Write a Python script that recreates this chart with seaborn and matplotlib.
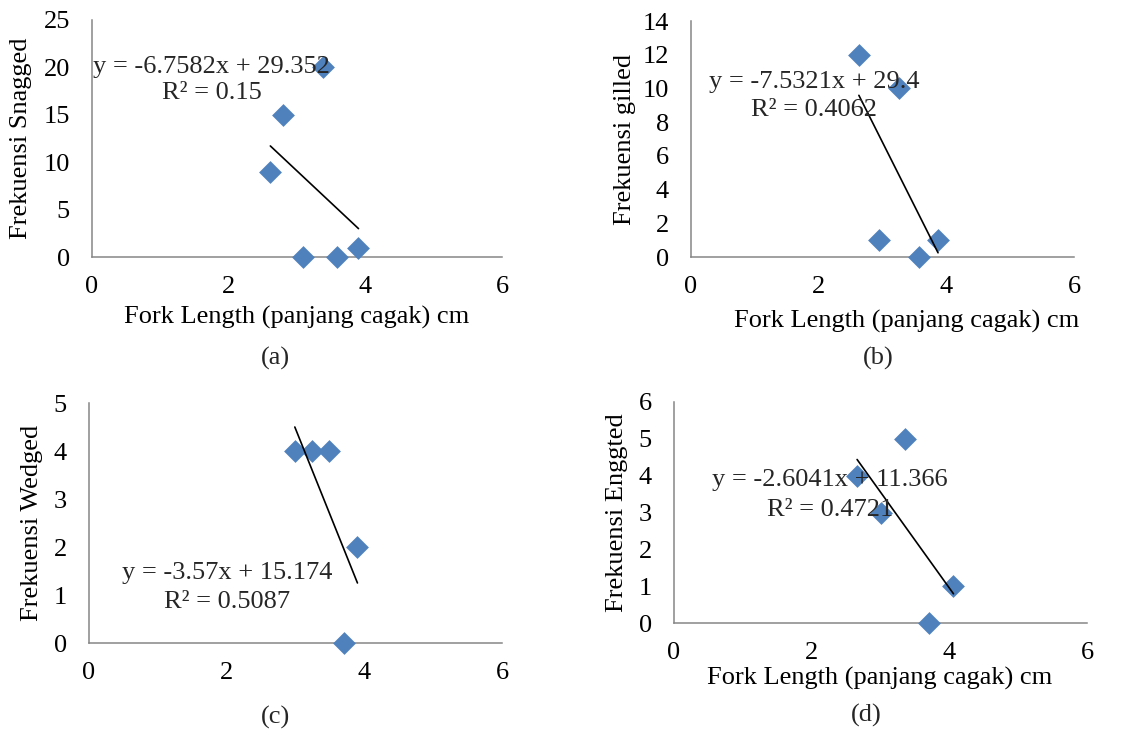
import numpy as np
import pandas as pd
import matplotlib
matplotlib.use("Agg")
import matplotlib.pyplot as plt
import seaborn as sns

# ---- data ----
x_a = [2.61, 2.79, 3.38, 3.09, 3.59, 3.90]
y_a = [9, 15, 20, 0, 0, 1]
x_b = [2.63, 3.26, 2.94, 3.57, 3.87]
y_b = [12, 10, 1, 0, 1]
x_c = [2.99, 3.24, 3.48, 3.90, 3.70]
y_c = [4, 4, 4, 2, 0]
x_d = [2.66, 3.36, 3.01, 4.06, 3.71]
y_d = [4, 5, 3, 1, 0]

slopes = [-6.7582, -7.5321, -3.57, -2.6041]
intercepts = [29.352, 29.4, 15.174, 11.366]
r2 = ["0.15", "0.4062", "0.5087", "0.4721"]
eq_texts = ["y = -6.7582x + 29.352", "y = -7.5321x + 29.4",
            "y = -3.57x + 15.174", "y = -2.6041x + 11.366"]
ylabels = ["Frekuensi Snagged", "Frekuensi gilled", "Frekuensi Wedged", "Frekuensi Enggted"]
xlabel_text = "Fork Length (panjang cagak) cm"
captions = ["(a)", "(b)", "(c)", "(d)"]
ylims = [25, 14, 5, 6]
ysteps = [5, 2, 1, 1]
xticks = [0, 2, 4, 6]

sns.set_theme(style="white")
plt.rcParams["font.family"] = ["Liberation Serif", "DejaVu Serif"]

W, H = 1121, 736
fig = plt.figure(figsize=(W / 100, H / 100), dpi=100)

def px_axes(l, t, r, b):
    return fig.add_axes([l / W, 1 - b / H, (r - l) / W, (b - t) / H])

axes = [px_axes(92, 20, 502, 257), px_axes(691, 21, 1074, 257),
        px_axes(89, 403, 502, 643), px_axes(674, 402, 1087, 623)]

xs = [x_a, x_b, x_c, x_d]
ys = [y_a, y_b, y_c, y_d]
# equation positions (data coords): (x, y_eq, y_r2)
eqpos = [(1.75, 20.0, 17.3), (1.93, 10.4, 8.7), (2.01, 1.46, 0.85), (2.27, 3.89, 3.07)]
xlabel_on = [True, True, False, True]
xlabel_coords = [(0.5, -0.257), (0.564, -0.275), None, (0.499, -0.249)]
ylabel_x = [-0.173, -0.172, -0.138, -0.137]
cap_pos = [(275, 358), (878, 358), (275, 717), (866, 715)]

FS = 19
grey = "#868686"
blue = "#4F81BD"

for i, ax in enumerate(axes):
    df = pd.DataFrame({"x": xs[i], "y": ys[i]})
    sns.scatterplot(data=df, x="x", y="y", ax=ax, marker="D", s=135,
                    color=blue, linewidth=0, zorder=3, clip_on=False)
    xx = np.array([min(xs[i]), max(xs[i])])
    ax.plot(xx, slopes[i] * xx + intercepts[i], color="black", lw=1.2, zorder=4)
    ax.set_xlim(0, 6)
    ax.set_ylim(0, ylims[i])
    ax.set_xticks(xticks)
    ax.set_yticks(np.arange(0, ylims[i] + 0.001, ysteps[i]))
    for s in ["top", "right"]:
        ax.spines[s].set_visible(False)
    for s in ["left", "bottom"]:
        ax.spines[s].set_color(grey)
        ax.spines[s].set_linewidth(1.1)
    ax.tick_params(axis="both", which="major", direction="out", length=6,
                   width=1.1, color=grey, labelsize=FS, labelcolor="black")
    ax.tick_params(axis="x", pad=8)
    ax.tick_params(axis="y", pad=10)
    ax.set_facecolor("white")
    ax.set_ylabel(ylabels[i], fontsize=FS, color="black")
    ax.yaxis.set_label_coords(ylabel_x[i], 0.5)
    ax.yaxis.label.set_va("center")
    if xlabel_on[i]:
        ax.set_xlabel(xlabel_text, fontsize=FS, color="black")
        ax.xaxis.set_label_coords(*xlabel_coords[i])
        ax.xaxis.label.set_va("center")
    else:
        ax.set_xlabel("")
    ex, ey, ry = eqpos[i]
    ax.text(ex, ey, eq_texts[i], fontsize=FS, ha="center", va="center", zorder=5)
    ax.text(ex, ry, "R² = " + r2[i], fontsize=FS, ha="center", va="center", zorder=5)
    cx, cy = cap_pos[i]
    fig.text(cx / W, 1 - cy / H, captions[i], fontsize=FS, ha="center", va="center")

fig.savefig("out.png", dpi=100, facecolor="white")
